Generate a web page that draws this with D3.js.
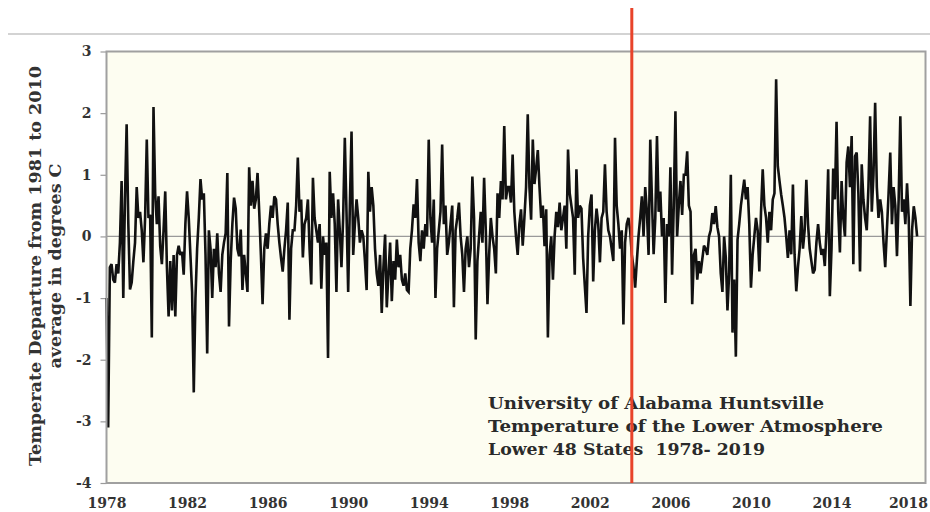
<!DOCTYPE html>
<html>
<head>
<meta charset="utf-8">
<script src="https://cdn.jsdelivr.net/npm/d3@7"></script>
<style>
  html, body { margin: 0; padding: 0; background: #ffffff; }
  svg { display: block; }
</style>
</head>
<body>
<div id="chart"></div>
<script>
// ─── Data: monthly anomalies (°C), one row per year from the first month ───
const anomalies = [
  -1.0, -3.1, -0.5, -0.45, -0.7, -0.75, -0.45, -0.6, -0.1, 0.9, -1.0, 0.6,
  1.82, 0.2, -0.86, -0.75, -0.4, -0.1, 0.8, 0.3, 0.4, 0.1, -0.42, 0.3,
  1.57, 0.3, 0.35, -1.64, 2.1, 0.7, 0.2, 0.65, -0.16, -0.45, 0.1, 0.73,
  -0.5, -1.3, -0.4, -1.2, -0.3, -1.3, -0.3, -0.15, -0.3, -0.25, -0.62, 0.2,
  0.73, 0.3, -0.3, -0.9, -2.53, -1.0, -0.2, 0.3, 0.93, 0.6, 0.7, -0.3,
  -1.9, 0.1, -0.2, -1.0, -0.2, -0.5, 0.05, -0.6, -0.9, -0.3, -0.1, 0.05,
  1.03, -1.46, -0.4, 0.2, 0.63, 0.45, -0.2, -0.32, 0.11, -0.87, -0.3, -0.6,
  -0.9, 1.12, 0.5, 0.9, 0.45, 0.6, 1.03, 0.4, -0.3, -1.1, -0.2, 0.05,
  -0.2, 0.2, 0.5, 0.3, 0.65, 0.6, 0.2, -0.1, -0.35, -0.57, -0.2, 0.1,
  0.55, -1.35, -0.2, 0.1, 0.1, 0.5, 1.28, 0.4, 0.6, -0.34, 0.2, 0.3,
  0.6, -0.2, -0.78, 0.95, 0.3, 0.1, -0.1, 0.2, -0.85, 0.0, -0.3, -0.1,
  -1.97, 1.05, 0.3, 0.7, 0.2, -0.9, 0.6, 0.1, -0.5, 0.3, 1.6, 0.4,
  -0.9, 0.5, 1.7, -0.3, 0.2, 0.6, 0.3, -0.1, 0.1, 0.0, -0.4, -0.87,
  1.05, 0.4, 0.8, 0.5, -0.2, -0.6, -0.8, -0.3, -1.24, -0.5, 0.03, -1.15,
  -0.6, -0.1, -1.05, -0.4, -0.7, -0.05, -0.5, -0.3, -0.7, -0.8, -0.6, -0.87,
  -0.9, -0.2, 0.1, 0.52, 0.3, 0.93, -0.1, -0.4, 0.1, -0.2, 0.2, 0.0,
  1.57, 0.3, -0.1, 0.6, -1.0, -0.2, 0.1, 0.4, 1.49, 0.2, 0.5, -0.3,
  -0.1, 0.2, 0.5, -1.15, 0.1, 0.3, 0.55, 0.0, -0.3, -0.9, -0.2, 0.0,
  -0.5, -0.2, 0.97, 0.3, -1.67, -0.4, 0.0, 0.4, -0.1, 0.95, 0.1, -1.1,
  -0.3, 0.3, 0.0, -0.2, -0.6, 0.7, 0.3, 0.9, 0.6, 1.79, 0.6, 0.8,
  0.8, 0.55, 1.33, 0.4, 0.0, -0.3, 0.2, 0.44, -0.15, 0.3, 0.8, 1.98,
  0.8, 0.27, 1.57, 0.85, 1.1, 1.4, 0.8, 0.3, 0.5, -0.16, 0.44, -1.64,
  -0.3, 0.0, -0.7, 0.0, 0.4, 0.15, 0.55, 0.1, 0.3, 0.5, -0.2, 1.41,
  0.7, 0.5, 0.3, -0.62, 1.09, 0.3, 0.5, 0.45, -0.35, -0.8, -1.24, 0.0,
  0.5, 0.68, -0.73, 0.1, 0.45, 0.2, -0.42, 0.3, 0.4, 1.17, 0.4, 0.1,
  0.0, -0.2, -0.4, 1.6, 0.5, 0.2, -0.2, 0.1, -1.43, -0.1, 0.2, 0.3,
  0.1, -0.3, -0.5, -0.83, -0.4, 0.0, 0.3, 0.65, 0.0, 0.8, 0.4, -0.3,
  1.57, 0.6, -0.29, 0.3, 1.63, 0.4, 0.73, 0.0, 0.3, -1.08, 0.2, 0.0,
  1.12, -0.62, 0.5, 2.03, 0.0, 0.5, 0.9, 0.35, 1.0, 1.0, 1.38, 0.5,
  0.4, -1.1, -0.3, -0.2, -0.7, -0.4, -0.6, -0.37, -0.15, -0.2, -0.3, 0.0,
  0.1, 0.38, 0.2, 0.49, 0.15, 0.0, -0.6, -0.9, 0.0, -0.34, -1.2, -0.6,
  1.0, -1.56, -0.7, -1.95, -0.05, 0.2, 0.5, 0.71, 0.92, 0.6, 0.8, 0.2,
  -0.83, -0.3, 0.0, 0.3, 0.1, -0.57, 0.4, 1.09, 0.5, 0.3, -0.1, 0.4,
  0.1, 0.6, 0.7, 2.55, 1.14, 0.9, 0.68, 0.5, 0.3, 0.0, -0.35, 0.1,
  -0.29, 0.84, -0.3, -0.89, -0.5, -0.2, 0.33, -0.2, 0.1, 0.92, 0.2, -0.2,
  -0.4, -0.6, -0.54, -0.1, 0.2, -0.1, -0.3, -0.2, -0.48, 0.1, 1.09, -0.97,
  -0.2, 1.1, 0.6, 1.86, 0.4, -0.26, 0.9, 0.3, 0.0, 1.2, 1.46, 0.8,
  1.63, -0.45, 1.3, 1.36, 0.7, -0.57, 1.17, 0.6, 0.3, 0.1, 0.8, 1.95,
  0.4, 1.0, 2.17, 0.8, 0.3, 0.6, 0.4, -0.1, -0.5, 0.1, 0.7, 1.36,
  0.2, 0.8, 0.5, -0.32, 0.6, 1.95, 0.4, 0.6, 0.2, 0.86, 0.3, -1.13,
  0.1, 0.49, 0.3, 0.0,
];

const tickYears = [1978, 1982, 1986, 1990, 1994, 1998, 2002, 2006, 2010, 2014, 2018];
const yTicks = [3, 2, 1, 0, -1, -2, -3, -4];
const markerMonth = 313; // red vertical marker, months from first point
const monthsShown = 488;
const yTitleLines = ["Temperate Departure from 1981 to 2010", "average in degrees C"];
const noteLines = [
  "University of Alabama Huntsville",
  "Temperature of the Lower Atmosphere",
  "Lower 48 States  1978- 2019",
];

// ─── Layout ───
const W = 930, H = 512;
const plot = { left: 106.5, right: 925.5, top: 51.5, bottom: 483 };
const FONT = "'DejaVu Serif', Georgia, serif";

const svg = d3.select("#chart").append("svg")
  .attr("width", W).attr("height", H)
  .attr("viewBox", `0 0 ${W} ${H}`);

// ── Scales ──
const x = d3.scaleLinear().domain([0, monthsShown]).range([plot.left, plot.right]);
const y = d3.scaleLinear().domain([-4, 3]).range([plot.bottom, plot.top]);

// ── Top divider line ──
svg.append("line")
  .attr("x1", 8).attr("x2", W).attr("y1", 34).attr("y2", 34)
  .attr("stroke", "#c4c4c4").attr("stroke-width", 1.5);

// ── Plot background ──
svg.append("rect")
  .attr("x", plot.left).attr("y", plot.top)
  .attr("width", plot.right - plot.left).attr("height", plot.bottom - plot.top)
  .attr("fill", "#fdfdf1");

// ── Zero line ──
svg.append("line")
  .attr("x1", plot.left).attr("x2", plot.right)
  .attr("y1", y(0)).attr("y2", y(0))
  .attr("stroke", "#9a9a9a").attr("stroke-width", 1.2);

// ── Y axis ──
const gY = svg.append("g")
  .attr("transform", `translate(${plot.left},0)`)
  .call(d3.axisLeft(y).tickValues(yTicks).tickSize(6).tickPadding(9).tickFormat((d) => String(d)));
gY.select(".domain").remove();
gY.selectAll("line").attr("stroke", "#9a9a9a").attr("stroke-width", 1.2);
gY.selectAll("text")
  .style("font-family", FONT).style("font-size", "14px").style("font-weight", "bold")
  .style("fill", "#333");

// ── X axis (category-style, a label every 48 months) ──
const gX = svg.append("g")
  .attr("transform", `translate(0,${plot.bottom})`)
  .call(d3.axisBottom(x)
    .tickValues(tickYears.map((yr, i) => i * 48))
    .tickSize(0).tickPadding(15)
    .tickFormat((d, i) => tickYears[i]));
gX.select(".domain").remove();
gX.selectAll("text")
  .style("font-family", FONT).style("font-size", "14px").style("font-weight", "bold")
  .style("fill", "#333");
// keep the last label inside the window
gX.selectAll(".tick:last-of-type text").attr("dx", "-4");

// ── Data line ──
const line = d3.line().x((d, i) => x(i)).y((d) => y(d));
svg.append("path")
  .datum(anomalies)
  .attr("d", line)
  .attr("fill", "none")
  .attr("stroke", "#111")
  .attr("stroke-width", 2.6)
  .attr("stroke-linejoin", "miter")
  .attr("stroke-miterlimit", 3);

// ── Plot border ──
svg.append("rect")
  .attr("x", plot.left).attr("y", plot.top)
  .attr("width", plot.right - plot.left).attr("height", plot.bottom - plot.top)
  .attr("fill", "none").attr("stroke", "#a0a0a0").attr("stroke-width", 2);

// ── Note block ──
const noteWidths = [336, 395, 277];
svg.append("g").selectAll("text")
  .data(noteLines)
  .join("text")
  .attr("x", 488)
  .attr("y", (d, i) => 409 + i * 23)
  .attr("textLength", (d, i) => noteWidths[i])
  .attr("lengthAdjust", "spacingAndGlyphs")
  .style("white-space", "pre")
  .style("font-family", FONT).style("font-size", "17px").style("font-weight", "bold")
  .style("fill", "#2a2a2a")
  .text((d) => d);

// ── Red marker ──
svg.append("line")
  .attr("x1", x(markerMonth)).attr("x2", x(markerMonth))
  .attr("y1", 8).attr("y2", plot.bottom)
  .attr("stroke", "#e8432a").attr("stroke-width", 3);

// ── Y axis title ──
const titleWidths = [400, 205];
svg.append("g")
  .attr("transform", "translate(0,266) rotate(-90)")
  .selectAll("text")
  .data(yTitleLines)
  .join("text")
  .attr("x", 0)
  .attr("y", (d, i) => 41 + i * 20)
  .attr("text-anchor", "middle")
  .attr("textLength", (d, i) => titleWidths[i])
  .attr("lengthAdjust", "spacingAndGlyphs")
  .style("font-family", FONT).style("font-size", "16px").style("font-weight", "bold")
  .style("fill", "#333")
  .text((d) => d);
</script>
</body>
</html>
